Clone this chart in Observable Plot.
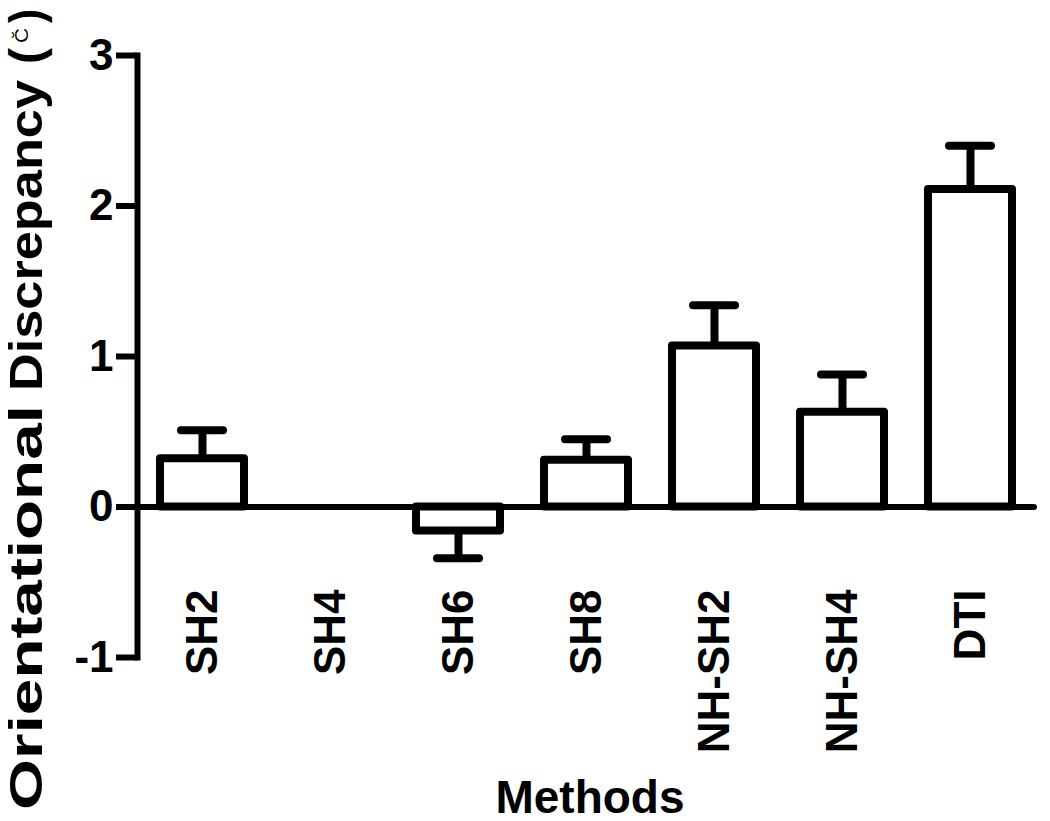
<!DOCTYPE html>
<html>
<head>
<meta charset="utf-8">
<script src="https://cdn.jsdelivr.net/npm/d3@7"></script>
<script src="https://cdn.jsdelivr.net/npm/@observablehq/plot@0.6"></script>
<style>
  html, body { margin: 0; padding: 0; background: white; overflow: hidden; }
  svg { display: block; }
</style>
</head>
<body>
<div id="chart"></div>
<script>
const methods = ["SH2", "SH4", "SH6", "SH8", "NH-SH2", "NH-SH4", "DTI"];
const means   = [0.32, 0, -0.16, 0.31, 1.07, 0.63, 2.11];
const errEnds = [0.51, 0, -0.34, 0.45, 1.34, 0.88, 2.40];
const yTicks  = [-1, 0, 1, 2, 3];
const xTitle  = "Methods";
const yTitleWords = ["Orientational", "Discrepancy"];
const yUnit = ["(", "C\u0306", ")"];

const data = methods.map((m, i) => ({method: m, mean: means[i], err: errEnds[i]}));
const bars = data.filter(d => d.mean !== 0);

const FONT = "'Liberation Sans', Arial, Helvetica, sans-serif";

const svg = Plot.plot({
  width: 1050,
  height: 821,
  marginLeft: 137,
  marginRight: 16,
  marginTop: 55,
  marginBottom: 164,
  style: {fontFamily: FONT, fontWeight: "bold", background: "white", color: "black", overflow: "visible"},
  x: {domain: methods, paddingInner: 0.344, paddingOuter: 0.172, label: null},
  y: {domain: [-1, 3], label: null},
  marks: [
    Plot.barY(bars, {x: "method", y: "mean", fill: "white", stroke: "black", strokeWidth: 8, strokeLinejoin: "round"}),
    Plot.ruleX(bars, {x: "method", y1: "mean", y2: "err", stroke: "black", strokeWidth: 8}),
    Plot.tickY(bars, {x: "method", y: "err", stroke: "black", strokeWidth: 8, strokeLinecap: "round", insetLeft: 21, insetRight: 21}),
    Plot.ruleY([0], {stroke: "black", strokeWidth: 6, strokeLinecap: "round"}),
    Plot.frame({anchor: "left", stroke: "black", strokeWidth: 6}),
    Plot.axisY({ticks: yTicks, tickFormat: d => String(d), tickSize: 21, tickPadding: 3, fontSize: 44, strokeWidth: 6, label: null}),
    Plot.axisX({tickRotate: -90, tickSize: 0, tickPadding: 0, fontSize: 44, dy: -68, label: null}),
    Plot.text([xTitle], {frameAnchor: "bottom", dy: 155, dx: 4, fontSize: 46, lineAnchor: "bottom", fontWeight: "bold"})
  ]
});

const g = d3.select(svg).append("g")
  .attr("font-family", FONT)
  .attr("font-weight", "bold")
  .attr("font-size", 46)
  .attr("text-anchor", "start")
  .attr("fill", "black");

function vtext(str, x, y, len, size) {
  const t = g.append("text")
    .attr("text-anchor", "start")
    .attr("transform", `translate(${x},${y}) rotate(-90)`)
    .attr("textLength", len).attr("lengthAdjust", "spacingAndGlyphs")
    .text(str);
  if (size) t.attr("font-size", size).attr("font-weight", "normal");
  return t;
}
vtext(yTitleWords[0], 42, 810, 405);
vtext(yTitleWords[1], 42, 391, 311);
vtext(yUnit[0], 42, 64, 16);
vtext(yUnit[1], 28, 43, 15, 18);
vtext(yUnit[2], 42, 23, 14);

document.getElementById("chart").appendChild(svg);
</script>
</body>
</html>
